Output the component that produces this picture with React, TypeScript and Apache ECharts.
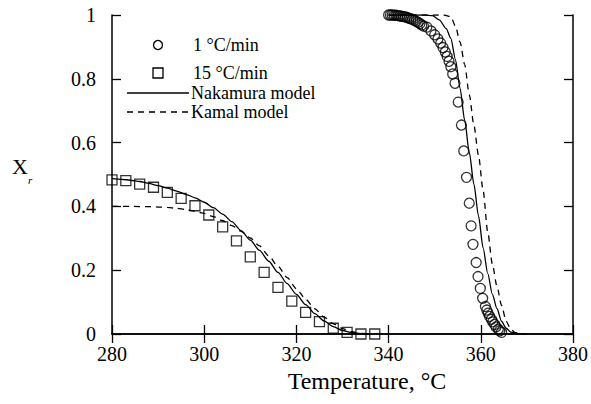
import React, { useEffect, useRef } from "react";
import * as echarts from "echarts";

// 15 °C/min experimental (squares)
const TEMP_15 = [280, 283, 286, 289, 292, 295, 298, 301, 304, 307, 310, 313, 316, 319, 322, 325, 328, 331, 334, 337];
const XR_15 = [0.483, 0.481, 0.47, 0.46, 0.444, 0.425, 0.402, 0.373, 0.336, 0.292, 0.242, 0.193, 0.146, 0.103, 0.068, 0.039, 0.018, 0.005, 0.0, 0.0];

// 1 °C/min experimental (circles)
const TEMP_1 = [
  340.0, 340.4, 340.8, 341.2, 341.6, 342.0, 342.4, 342.8, 343.2, 343.6, 344.0, 344.4, 344.8, 345.2, 345.6, 346.0,
  346.4, 346.8, 347.2, 347.6, 348.3, 349.2, 350.0, 350.7, 351.3, 351.8, 352.3, 352.7, 353.1, 353.5, 353.9, 354.4,
  355.1, 355.8, 356.3, 356.9, 357.5, 357.9, 358.3, 359.0, 359.4, 359.9, 360.4, 361.0, 361.3, 361.6, 361.9, 362.3,
  362.6, 363.0, 363.3, 363.8, 364.1, 364.5,
];
const XR_1 = [
  1.0, 1.0, 1.0, 0.999, 0.999, 0.998, 0.997, 0.996, 0.995, 0.994, 0.992, 0.99, 0.988, 0.986, 0.983, 0.98,
  0.977, 0.973, 0.969, 0.965, 0.962, 0.95, 0.938, 0.925, 0.912, 0.898, 0.884, 0.87, 0.855, 0.838, 0.815, 0.786,
  0.727, 0.655, 0.574, 0.491, 0.41, 0.339, 0.281, 0.224, 0.18, 0.143, 0.112, 0.086, 0.075, 0.065, 0.055, 0.046,
  0.038, 0.03, 0.022, 0.015, 0.01, 0.005,
];

// Nakamura model, 15 °C/min
const NAK15_T = [280, 282, 284, 286, 288, 290, 292, 294, 296, 298, 300, 302, 304, 306, 308, 310, 312, 314, 316, 318, 320, 322, 324, 326, 328, 330, 332, 334, 336];
const NAK15_X = [0.487, 0.485, 0.482, 0.478, 0.472, 0.465, 0.457, 0.448, 0.438, 0.427, 0.413, 0.396, 0.376, 0.352, 0.324, 0.294, 0.262, 0.228, 0.193, 0.158, 0.124, 0.092, 0.064, 0.041, 0.023, 0.011, 0.004, 0.001, 0.0];
// Kamal model, 15 °C/min
const KAM15_T = [280, 284, 288, 292, 294, 296, 298, 300, 302, 304, 306, 308, 310, 312, 314, 316, 318, 320, 322, 324, 326, 328, 330, 332, 334, 336];
const KAM15_X = [0.4, 0.4, 0.399, 0.397, 0.394, 0.39, 0.385, 0.378, 0.368, 0.355, 0.34, 0.322, 0.301, 0.276, 0.245, 0.212, 0.177, 0.142, 0.109, 0.079, 0.053, 0.032, 0.017, 0.007, 0.002, 0.0];

// Nakamura model, 1 °C/min
const NAK1_T = [340, 348, 349.5, 351, 352.5, 353.5, 354.5, 355.5, 356.5, 357.5, 358.5, 359.5, 360.5, 361.5, 362.5, 363.5, 364.5, 365.5, 366.5, 368, 370];
const NAK1_X = [1.0, 1.0, 0.998, 0.985, 0.957, 0.927, 0.86, 0.77, 0.67, 0.57, 0.47, 0.37, 0.27, 0.19, 0.125, 0.08, 0.04, 0.018, 0.006, 0.001, 0.0];
// Kamal model, 1 °C/min
const KAM1_T = [340, 352, 353.5, 354.5, 355.5, 356.5, 357.5, 358.5, 359.5, 360.5, 361.5, 362.5, 363.5, 364.5, 365.5, 366.5, 367.5, 369];
const KAM1_X = [1.0, 1.0, 0.995, 0.965, 0.915, 0.845, 0.75, 0.655, 0.56, 0.45, 0.32, 0.22, 0.15, 0.09, 0.04, 0.015, 0.004, 0.0];

const X_MIN = 280;
const X_MAX = 380;
const X_STEP = 20;
const Y_MIN = 0;
const Y_MAX = 1;
const Y_STEP = 0.2;

const LEGEND_LABELS = ["1 °C/min", "15 °C/min", "Nakamura model", "Kamal model"];
const X_TITLE = "Temperature, °C";

const FONT = "Liberation Serif";

const zip = (a: number[], b: number[]) => a.map((v, i) => [v, b[i]]);

export default function App() {
  const ref = useRef<HTMLDivElement>(null);
  useEffect(() => {
    if (!ref.current) return;
    const chart = echarts.init(ref.current, undefined, { renderer: "svg" });
    const axisLine = { show: true, lineStyle: { color: "#000", width: 1.5 } };
    const tickInside = { show: true, inside: true, length: 9, lineStyle: { color: "#000", width: 1.3 } };
    const lineSeries = (data: number[][], dashed: boolean) => ({
      type: "line",
      data,
      showSymbol: false,
      smooth: 0.25,
      smoothMonotone: "x",
      lineStyle: { color: "#000", width: 1.3, type: dashed ? [6, 5] : "solid" },
      z: 3,
    });
    const legendFont = `18px "${FONT}"`;
    chart.setOption({
      animation: false,
      backgroundColor: "#fff",
      grid: { left: 112, right: 17, top: 15, bottom: 70, containLabel: false },
      xAxis: [
        {
          type: "value",
          min: X_MIN,
          max: X_MAX,
          interval: X_STEP,
          position: "bottom",
          axisLine,
          axisTick: tickInside,
          splitLine: { show: false },
          axisLabel: { color: "#000", fontFamily: FONT, fontSize: 20, margin: 10 },
        },
        {
          type: "value",
          min: X_MIN,
          max: X_MAX,
          interval: X_STEP,
          position: "top",
          axisLine,
          axisTick: tickInside,
          splitLine: { show: false },
          axisLabel: { show: false },
        },
      ],
      yAxis: [
        {
          type: "value",
          min: Y_MIN,
          max: Y_MAX,
          interval: Y_STEP,
          position: "left",
          axisLine,
          axisTick: tickInside,
          splitLine: { show: false },
          axisLabel: { color: "#000", fontFamily: FONT, fontSize: 20, margin: 16 },
        },
        {
          type: "value",
          min: Y_MIN,
          max: Y_MAX,
          interval: Y_STEP,
          position: "right",
          axisLine,
          axisTick: tickInside,
          splitLine: { show: false },
          axisLabel: { show: false },
        },
      ],
      series: [
        {
          type: "scatter",
          name: LEGEND_LABELS[1],
          data: zip(TEMP_15, XR_15),
          symbol: "rect",
          symbolSize: 10,
          itemStyle: { color: "rgba(0,0,0,0)", borderColor: "#000", borderWidth: 1.3 },
          z: 2,
        },
        {
          type: "scatter",
          name: LEGEND_LABELS[0],
          data: zip(TEMP_1, XR_1),
          symbol: "circle",
          symbolSize: 10,
          itemStyle: { color: "rgba(0,0,0,0)", borderColor: "#000", borderWidth: 1.3 },
          z: 2,
        },
        { ...lineSeries(zip(NAK15_T, NAK15_X), false), name: LEGEND_LABELS[2] },
        { ...lineSeries(zip(KAM15_T, KAM15_X), true), name: LEGEND_LABELS[3] },
        { ...lineSeries(zip(NAK1_T, NAK1_X), false), name: LEGEND_LABELS[2] + " 1" },
        { ...lineSeries(zip(KAM1_T, KAM1_X), true), name: LEGEND_LABELS[3] + " 1" },
      ],
      graphic: [
        { type: "circle", shape: { cx: 158, cy: 45, r: 4.5 }, style: { fill: "none", stroke: "#000", lineWidth: 1.3 } },
        { type: "rect", shape: { x: 153, y: 68, width: 10, height: 10 }, style: { fill: "none", stroke: "#000", lineWidth: 1.3 } },
        { type: "line", shape: { x1: 127, y1: 93, x2: 189, y2: 93 }, style: { stroke: "#000", lineWidth: 1.3 } },
        { type: "line", shape: { x1: 127, y1: 112, x2: 189, y2: 112 }, style: { stroke: "#000", lineWidth: 1.3, lineDash: [6, 5] } },
        { type: "text", x: 193, y: 45, style: { text: LEGEND_LABELS[0], font: legendFont, fill: "#000", verticalAlign: "middle" } },
        { type: "text", x: 193, y: 73, style: { text: LEGEND_LABELS[1], font: legendFont, fill: "#000", verticalAlign: "middle" } },
        { type: "text", x: 191, y: 93, style: { text: LEGEND_LABELS[2], font: legendFont, fill: "#000", verticalAlign: "middle" } },
        { type: "text", x: 191, y: 112, style: { text: LEGEND_LABELS[3], font: legendFont, fill: "#000", verticalAlign: "middle" } },
        { type: "text", x: 367, y: 381, style: { text: X_TITLE, font: `24px "${FONT}"`, fill: "#000", align: "center", verticalAlign: "middle" } },
        { type: "text", x: 12, y: 166, style: { text: "X", font: `22px "${FONT}"`, fill: "#000", verticalAlign: "middle" } },
        { type: "text", x: 28, y: 180, style: { text: "r", font: `italic 11px "${FONT}"`, fill: "#000", verticalAlign: "middle" } },
      ],
    });
    return () => chart.dispose();
  }, []);
  return <div ref={ref} style={{ position: "fixed", left: 0, top: 0, width: 591, height: 404, background: "#fff" }} />;
}
